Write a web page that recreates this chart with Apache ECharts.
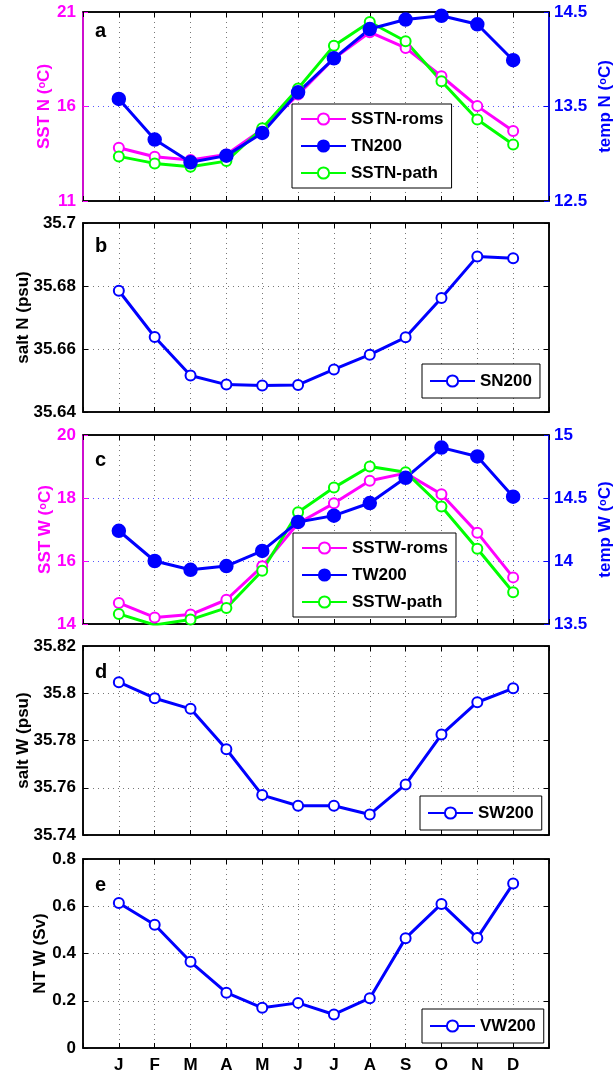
<!DOCTYPE html>
<html>
<head>
<meta charset="utf-8">
<script src="https://cdn.jsdelivr.net/npm/echarts@6/dist/echarts.min.js"></script>
<style>
  html, body { margin: 0; padding: 0; background: #fff; }
  #chart { width: 615px; height: 1075px; }
</style>
</head>
<body>
<div id="chart"></div>
<script>
// Monthly climatologies, January to December
const months = ['J', 'F', 'M', 'A', 'M', 'J', 'J', 'A', 'S', 'O', 'N', 'D'];

// a: northern section, SST (left axis) and 200 m temperature (right axis)
const sstnRoms = [13.82, 13.34, 13.17, 13.46, 14.79, 16.63, 18.54, 19.93, 19.10, 17.60, 16.02, 14.70];
const sstnPath = [13.36, 12.99, 12.81, 13.11, 14.85, 16.95, 19.22, 20.47, 19.45, 17.34, 15.31, 13.99];
const tn200    = [13.58, 13.15, 12.91, 12.98, 13.22, 13.65, 14.01, 14.32, 14.42, 14.46, 14.37, 13.99];

// b: northern section, 200 m salinity
const sn200 = [35.6785, 35.6638, 35.6516, 35.6487, 35.6484, 35.6486, 35.6535, 35.6582, 35.6637, 35.6762, 35.6894, 35.6888];

// c: western section, SST (left axis) and 200 m temperature (right axis)
const sstwRoms = [14.67, 14.21, 14.30, 14.77, 15.83, 17.20, 17.83, 18.55, 18.79, 18.12, 16.90, 15.48];
const sstwPath = [14.32, 13.97, 14.14, 14.51, 15.69, 17.55, 18.33, 19.00, 18.82, 17.73, 16.39, 15.01];
const tw200    = [14.24, 14.00, 13.93, 13.96, 14.08, 14.31, 14.36, 14.46, 14.66, 14.90, 14.83, 14.51];

// d: western section, 200 m salinity
const sw200 = [35.8047, 35.7979, 35.7934, 35.7763, 35.7569, 35.7524, 35.7524, 35.7487, 35.7614, 35.7825, 35.7962, 35.8021];

// e: western section, net transport
const vw200 = [0.614, 0.522, 0.365, 0.234, 0.170, 0.191, 0.142, 0.211, 0.465, 0.610, 0.466, 0.696];

const FONT = '"Liberation Sans", Arial, Helvetica, sans-serif';
const MAGENTA = '#ff00ff', BLUE = '#0000ff', GREEN = '#00ff00', BLACK = '#000000';
const GRID_TOPS = [12, 223, 435, 646, 859];
const GRID_H = 189;

// fixed plot boxes; labels may sit outside them
const grids = GRID_TOPS.map(t => ({
  left: 83, width: 466, top: t, height: GRID_H,
  outerBoundsMode: 'none', containLabel: false,
  show: true, borderColor: BLACK, borderWidth: 1.5, backgroundColor: 'transparent'
}));

const fmt = v => String(+v.toFixed(4));

// bottom axis (labels only on the last panel) plus a top axis for the mirrored ticks
const xAxes = [];
GRID_TOPS.forEach((_, i) => {
  xAxes.push({
    type: 'value', gridIndex: i, position: 'bottom', min: 0, max: 13, interval: 1,
    axisLine: { show: true, onZero: false, lineStyle: { color: BLACK, width: 1.5 } },
    axisTick: { show: true, inside: true, length: 5, lineStyle: { color: BLACK } },
    axisLabel: {
      show: i === 4, margin: 9, color: BLACK, fontSize: 17, fontWeight: 'bold', fontFamily: FONT,
      formatter: v => months[v - 1] || ''
    },
    splitLine: { show: true, showMinLine: false, showMaxLine: false,
      lineStyle: { color: '#777', width: 1, type: [1, 4] } }
  });
  xAxes.push({
    type: 'value', gridIndex: i, position: 'top', min: 0, max: 13, interval: 1,
    axisLine: { show: true, onZero: false, lineStyle: { color: BLACK, width: 1.5 } },
    axisTick: { show: true, inside: true, length: 5, lineStyle: { color: BLACK } },
    axisLabel: { show: false },
    splitLine: { show: false }
  });
});

function yAxis(o) {
  return {
    type: 'value', gridIndex: o.grid, position: o.pos, min: o.min, max: o.max, interval: o.interval,
    axisLine: { show: true, onZero: false, lineStyle: { color: o.color, width: 1.5 } },
    axisTick: { show: true, inside: true, length: 5, lineStyle: { color: o.color } },
    axisLabel: { show: o.labels !== false, color: o.color, fontSize: 17, fontWeight: 'bold',
      fontFamily: FONT, margin: o.pos === 'left' ? 7 : 5, formatter: fmt },
    splitLine: { show: !!o.split, showMinLine: false, showMaxLine: false,
      lineStyle: { color: o.split || '#777', width: 1, type: [1, 4] } },
    name: o.name || '', nameLocation: 'middle', nameRotate: 90, nameGap: o.gap || 0,
    nameMoveOverlap: false,
    nameTextStyle: { color: o.color, fontSize: 17, fontWeight: 'bold', fontFamily: FONT,
      rich: { s: { fontSize: 11, fontWeight: 'bold', fontFamily: FONT, color: o.color, verticalAlign: 'top' } } }
  };
}

const yAxes = [
  // a
  yAxis({ grid: 0, pos: 'left', min: 11, max: 21, interval: 5, color: MAGENTA, name: 'SST N ({s|o}C)', gap: 30 }),
  yAxis({ grid: 0, pos: 'right', min: 12.5, max: 14.5, interval: 1, color: BLUE, name: 'temp N ({s|o}C)', gap: 48, split: '#5555ff' }),
  // b
  yAxis({ grid: 1, pos: 'left', min: 35.64, max: 35.7, interval: 0.02, color: BLACK, name: 'salt N (psu)', gap: 51, split: '#777' }),
  yAxis({ grid: 1, pos: 'right', min: 35.64, max: 35.7, interval: 0.02, color: BLACK, labels: false }),
  // c
  yAxis({ grid: 2, pos: 'left', min: 14, max: 20, interval: 2, color: MAGENTA, name: 'SST W ({s|o}C)', gap: 29 }),
  yAxis({ grid: 2, pos: 'right', min: 13.5, max: 15, interval: 0.5, color: BLUE, name: 'temp W ({s|o}C)', gap: 48, split: '#5555ff' }),
  // d
  yAxis({ grid: 3, pos: 'left', min: 35.74, max: 35.82, interval: 0.02, color: BLACK, name: 'salt W (psu)', gap: 51, split: '#777' }),
  yAxis({ grid: 3, pos: 'right', min: 35.74, max: 35.82, interval: 0.02, color: BLACK, labels: false }),
  // e
  yAxis({ grid: 4, pos: 'left', min: 0, max: 0.8, interval: 0.2, color: BLACK, name: 'NT W (Sv)', gap: 34, split: '#777' }),
  yAxis({ grid: 4, pos: 'right', min: 0, max: 0.8, interval: 0.2, color: BLACK, labels: false })
];

function line(name, vals, color, panel, right, filled) {
  return {
    type: 'line', name, xAxisIndex: panel * 2, yAxisIndex: panel * 2 + (right ? 1 : 0),
    data: vals.map((v, i) => [i + 1, v]),
    symbol: filled ? 'circle' : 'emptyCircle', symbolSize: filled ? 12 : 10,
    lineStyle: { color, width: 3 },
    itemStyle: { color, borderColor: color, borderWidth: 2.5 },
    clip: true, silent: true
  };
}

const series = [
  line('SSTN-roms', sstnRoms, MAGENTA, 0, false, false),
  line('SSTN-path', sstnPath, GREEN, 0, false, false),
  line('TN200', tn200, BLUE, 0, true, true),
  line('SN200', sn200, BLUE, 1, false, false),
  line('SSTW-roms', sstwRoms, MAGENTA, 2, false, false),
  line('SSTW-path', sstwPath, GREEN, 2, false, false),
  line('TW200', tw200, BLUE, 2, true, true),
  line('SW200', sw200, BLUE, 3, false, false),
  line('VW200', vw200, BLUE, 4, false, false)
];

function legend(names, left, top, padding, gap) {
  return {
    show: true, orient: 'vertical', left, top, data: names,
    itemWidth: 45, itemHeight: 14, itemGap: gap || 7, padding,
    backgroundColor: '#fff', borderColor: BLACK, borderWidth: 1, borderRadius: 0,
    selectedMode: false, z: 10,
    textStyle: { fontSize: 17, fontWeight: 'bold', fontFamily: FONT, color: BLACK, lineHeight: 20 }
  };
}

const legends = [
  legend(['SSTN-roms', 'TN200', 'SSTN-path'], 292, 104, [5, 8, 5, 8]),
  legend(['SN200'], 422, 364, [7, 8, 7, 7]),
  legend(['SSTW-roms', 'TW200', 'SSTW-path'], 293, 533, [5, 8, 5, 8]),
  legend(['SW200'], 420, 796, [7, 8, 7, 7]),
  legend(['VW200'], 422, 1009, [7, 8, 7, 7])
];

// panel letters
const letters = [['a', 31], ['b', 246], ['c', 460], ['d', 672], ['e', 885]];
const graphic = letters.map(([t, y]) => ({
  type: 'text', x: 95, y, z: 20,
  style: { text: t, font: 'bold 20px ' + FONT, fill: BLACK, verticalAlign: 'middle', align: 'left' }
}));

const chart = echarts.init(document.getElementById('chart'), null, { renderer: 'canvas' });
chart.setOption({
  animation: false,
  backgroundColor: '#fff',
  grid: grids,
  xAxis: xAxes,
  yAxis: yAxes,
  legend: legends,
  series,
  graphic
});
</script>
</body>
</html>
